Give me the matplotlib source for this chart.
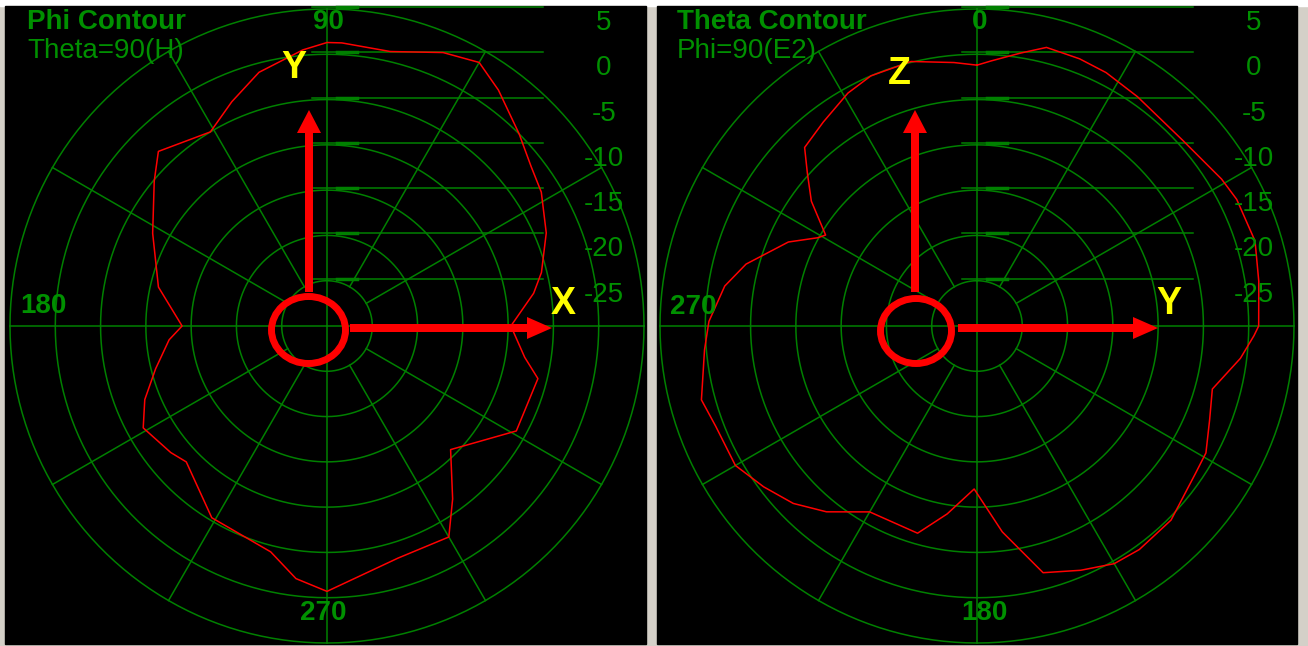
import numpy as np
import matplotlib
matplotlib.use("Agg")
import matplotlib.pyplot as plt
from matplotlib.patches import Rectangle, Ellipse, FancyArrow

# -------------------------------
# data (angle in deg, gain in dB)
# -------------------------------
phi_deg = [0, 9, 14, 23, 32, 38, 45, 54, 60, 67, 77, 87, 90, 95, 105, 113, 121,
           134, 140, 152, 167, 180, 185, 194, 202, 209, 219, 224, 239, 256, 263,
           270, 287, 300, 306, 315, 331, 346, 351, 360]
gain_phi = [-9.7, -6.9, -5.6, -3.7, -2.1, -1.4, 0.0, 2.2, 3.6, 2.8, 1.1, 1.3, 1.3,
            0.6, -1.0, -3.1, -5.0, -3.2, -5.1, -8.2, -10.9, -14.0, -12.5, -10.5,
            -8.3, -6.8, -7.8, -8.4, -5.3, -4.3, -1.9, -0.7, -3.2, -3.1, -6.4,
            -10.7, -6.1, -6.0, -7.9, -9.7]

theta_deg = [0, 3, 9, 14, 21, 27, 35, 48, 59, 64, 73, 81, 90, 92, 97, 105, 112,
             119, 124, 135, 144, 150, 157, 165, 173, 181, 189, 196, 210, 219, 226,
             233, 240, 249, 255, 265, 271, 279, 285, 294, 299, 301, 307, 312, 316,
             323, 331, 337, 346, 355, 360]
gain_theta = [-1.2, -0.7, 0.5, 1.7, 1.6, 1.4, 0.9, 0.6, 1.5, 1.9, 2.1, 1.5, 1.1,
              0.6, -0.7, -3.1, -2.3, -1.1, -0.9, 0.3, 0.5, 0.3, -0.7, -1.8, -7.1,
              -12.0, -9.0, -6.2, -6.3, -3.6, -1.8, -0.5, 0.8, 0.9, 1.5, 0.2, -0.4,
              -1.8, -3.6, -7.2, -9.9, -10.5, -7.1, -4.8, -2.6, -1.8, -0.6, 0.0,
              0.1, -0.8, -1.2]

ring_levels = [-25, -20, -15, -10, -5, 0, 5]
ring_labels = ["-25", "-20", "-15", "-10", "-5", "0", "5"]
spoke_deg = [30, 60, 120, 150, 210, 240, 300, 330]
r_min, r_max = -30, 5

W, H = 1308, 646
GREEN = "#008000"
TEXT_GREEN = "#009000"
FONT = "Liberation Sans"

panels = [
    dict(cx=327, cy=326, title="Phi Contour", sub="Theta=90(H)",
         ang=phi_deg, gain=gain_phi, zero="E", direction=1,
         axis_labels=[("90", 328, 22), ("180", 43, 306), ("270", 323, 613)],
         ellipse=(308.5, 330, 74, 67), up=(309, 292, 110), right=(350, 552, 328),
         letters=[("Y", 294, 68), ("X", 563, 304)]),
    dict(cx=977, cy=326, title="Theta Contour", sub="Phi=90(E2)",
         ang=theta_deg, gain=gain_theta, zero="N", direction=-1,
         axis_labels=[("0", 980, 22), ("270", 693, 307), ("180", 984, 613)],
         ellipse=(916, 331, 71, 65), up=(915, 292, 110), right=(958, 1158, 328),
         letters=[("Z", 899, 74), ("Y", 1169, 304)]),
]

fig = plt.figure(figsize=(W / 100, H / 100), dpi=100, facecolor="#d4d0c8")

# background: window frame + black panels, pixel coordinates
bg = fig.add_axes([0, 0, 1, 1])
bg.set_xlim(0, W)
bg.set_ylim(H, 0)
bg.axis("off")
bg.add_patch(Rectangle((0, 0), W, 6, color="white"))
bg.add_patch(Rectangle((5, 6), 641, 638, color="black"))
bg.add_patch(Rectangle((657, 6), 640, 638, color="black"))

# pixel radius of the outer (5 dB) ring
R = 317
ring_px = [(lv - r_min) / (r_max - r_min) * R for lv in ring_levels]

for p in panels:
    cx, cy = p["cx"], p["cy"]
    # horizontal level lines to the scale labels
    for rp in ring_px:
        bg.plot([cx - 15, cx + 216], [cy - rp - 2, cy - rp - 2], color=GREEN, lw=1.1)
        bg.plot([cx + 10, cx + 30], [cy - rp - 2, cy - rp - 2], color=GREEN, lw=2.5)

    ax = fig.add_axes([(cx - R) / W, (H - cy - R) / H, 2 * R / W, 2 * R / H],
                      projection="polar")
    ax.set_theta_zero_location(p["zero"])
    ax.set_theta_direction(p["direction"])
    ax.set_ylim(r_min, r_max)
    ax.axis("off")

    full = np.linspace(0, 2 * np.pi, 361)
    for lv in ring_levels:
        ax.plot(full, np.full_like(full, lv), color=GREEN, lw=1.1, clip_on=False)
    for s in spoke_deg:
        t = np.deg2rad(s)
        ax.plot([t, t], [ring_levels[0], r_max], color=GREEN, lw=1.1, clip_on=False)
    for s in [0, 90, 180, 270]:
        t = np.deg2rad(s)
        ax.plot([t, t], [r_min, r_max], color=GREEN, lw=1.1, clip_on=False)

    ax.plot(np.deg2rad(p["ang"]), p["gain"], color="#ff0000", lw=1.1, clip_on=False)

# overlay for text and the red annotations
ov = fig.add_axes([0, 0, 1, 1])
ov.set_xlim(0, W)
ov.set_ylim(H, 0)
ov.axis("off")
ov.patch.set_alpha(0)

for p in panels:
    cx, cy = p["cx"], p["cy"]
    x0 = cx - 300
    ov.text(x0, 22, p["title"], color=TEXT_GREEN, fontsize=20, fontweight="bold",
            family=FONT, ha="left", va="center")
    ov.text(x0, 51, p["sub"], color=TEXT_GREEN, fontsize=20,
            family=FONT, ha="left", va="center")
    for txt, x, y in p["axis_labels"]:
        ov.text(x, y, txt, color=TEXT_GREEN, fontsize=20, fontweight="bold",
                family=FONT, ha="center", va="center")
    for txt, rp in zip(ring_labels, ring_px):
        ov.text(cx + 277, cy - rp + 14, txt, color=TEXT_GREEN, fontsize=20,
                family=FONT, ha="center", va="center")

    ex, ey, ew, eh = p["ellipse"]
    ov.add_patch(Ellipse((ex, ey), ew, eh, fill=False, ec="red", lw=5))
    ux, uy0, uy1 = p["up"]
    ov.add_patch(FancyArrow(ux, uy0, 0, uy1 - uy0, width=8, head_width=24,
                            head_length=23, length_includes_head=True,
                            color="red", lw=0))
    rx0, rx1, ry = p["right"]
    ov.add_patch(FancyArrow(rx0, ry, rx1 - rx0, 0, width=8, head_width=22,
                            head_length=25, length_includes_head=True,
                            color="red", lw=0))
    for txt, x, y in p["letters"]:
        ov.text(x, y, txt, color="#ffff00", fontsize=27, fontweight="bold",
                family=FONT, ha="center", va="center")

plt.savefig("out.png", dpi=100, facecolor=fig.get_facecolor())
